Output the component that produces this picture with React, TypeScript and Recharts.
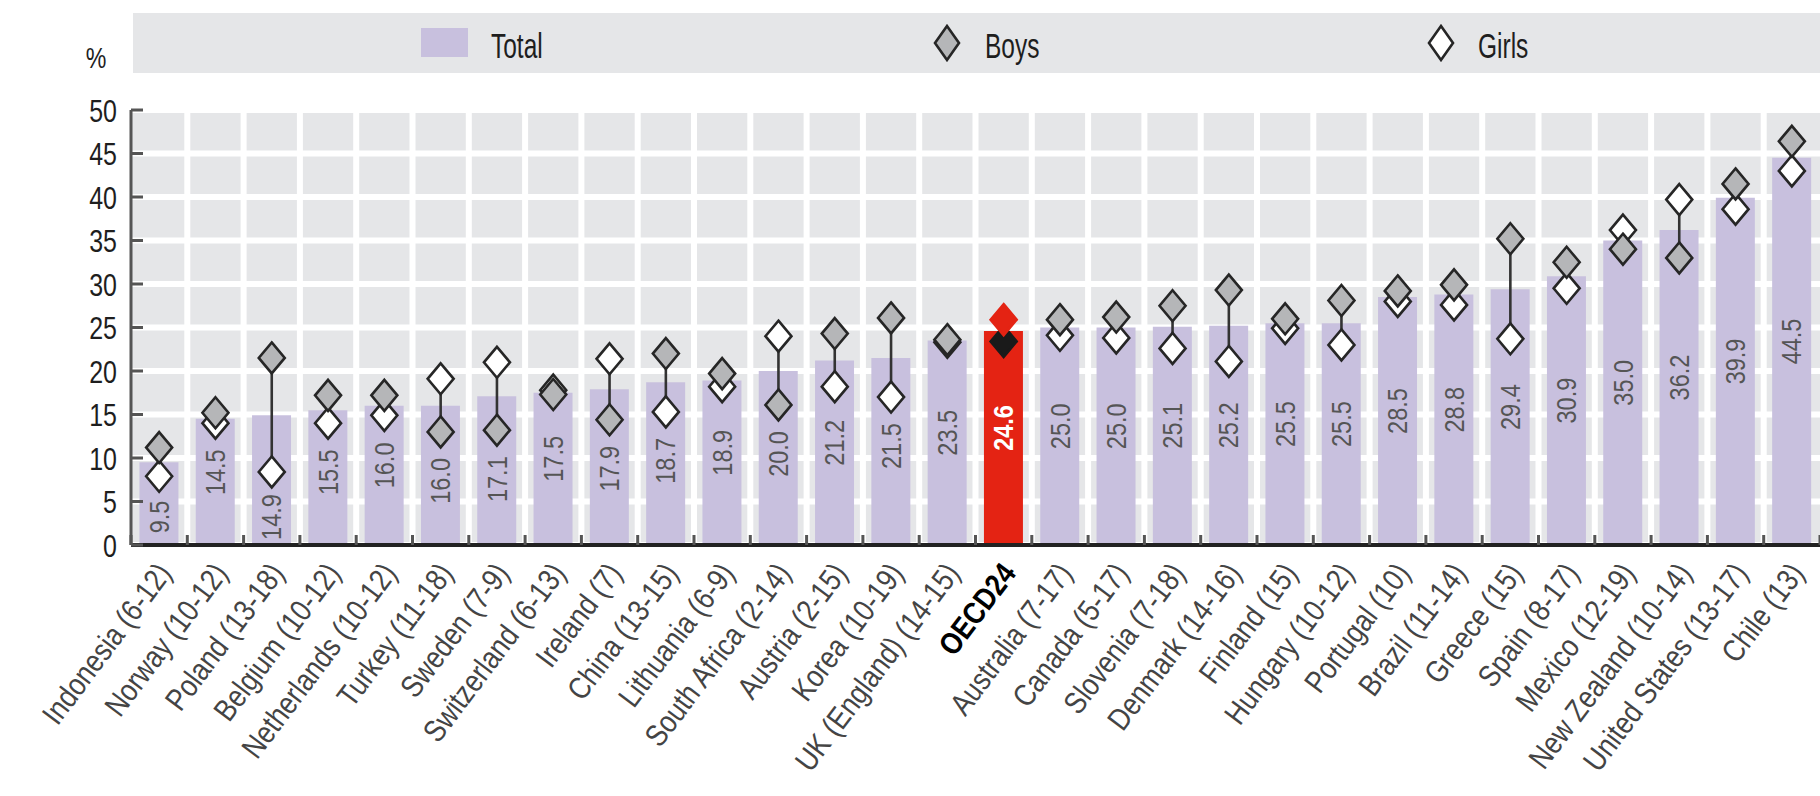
import { ComposedChart, Bar, Cell, Line, ErrorBar, XAxis, YAxis, CartesianGrid, LabelList } from "recharts";

const categories = [
  "Indonesia (6-12)", "Norway (10-12)", "Poland (13-18)", "Belgium (10-12)", "Netherlands (10-12)",
  "Turkey (11-18)", "Sweden (7-9)", "Switzerland (6-13)", "Ireland (7)", "China (13-15)",
  "Lithuania (6-9)", "South Africa (2-14)", "Austria (2-15)", "Korea (10-19)", "UK (England) (14-15)",
  "OECD24", "Australia (7-17)", "Canada (5-17)", "Slovenia (7-18)", "Denmark (14-16)",
  "Finland (15)", "Hungary (10-12)", "Portugal (10)", "Brazil (11-14)", "Greece (15)",
  "Spain (8-17)", "Mexico (12-19)", "New Zealand (10-14)", "United States (13-17)", "Chile (13)",
];

const total = [
  9.5, 14.5, 14.9, 15.5, 16.0, 16.0, 17.1, 17.5, 17.9, 18.7,
  18.9, 20.0, 21.2, 21.5, 23.5, 24.6, 25.0, 25.0, 25.1, 25.2,
  25.5, 25.5, 28.5, 28.8, 29.4, 30.9, 35.0, 36.2, 39.9, 44.5,
];

const boys = [
  11.2, 15.2, 21.5, 17.2, 17.2, 13.0, 13.2, 17.3, 14.4, 22.0,
  19.7, 16.1, 24.3, 26.1, 23.6, 25.9, 25.9, 26.2, 27.5, 29.3,
  26.0, 28.1, 29.2, 29.9, 35.2, 32.5, 34.0, 33.0, 41.5, 46.4,
];

const girls = [
  7.9, 14.0, 8.4, 14.0, 14.9, 19.1, 21.0, 17.8, 21.4, 15.3,
  18.2, 24.0, 18.2, 17.0, 23.3, 23.4, 24.1, 23.8, 22.6, 21.1,
  24.9, 23.0, 28.0, 27.6, 23.7, 29.5, 36.2, 39.7, 38.6, 43.0,
];

const yTicks = [0, 5, 10, 15, 20, 25, 30, 35, 40, 45, 50];
const highlight = "OECD24";

const data = categories.map((name, i) => ({ name, total: total[i], boys: boys[i], girls: girls[i] }));

const W = 1820;
const H = 796;
const PLOT_LEFT = 131;
const PLOT_W = W - PLOT_LEFT;
const STEP = PLOT_W / categories.length;
// no condensed face installed, so text is squeezed horizontally
const FONT = "'Liberation Sans', Arial, sans-serif";

const LAVENDER = "#c8c0de";
const RED = "#e42313";
const GREY_FILL = "#b5b6b8";
const DARK = "#262626";

const diamondPath = (cx: number, cy: number, w: number, h: number) =>
  `M${cx},${cy - h} L${cx + w},${cy} L${cx},${cy + h} L${cx - w},${cy} Z`;

const Diamond = (props: any) => {
  const { cx, cy, payload, kind } = props;
  if (cx == null || cy == null) return null;
  const oecd = payload && payload.name === highlight;
  let fill = kind === "boys" ? GREY_FILL : "#ffffff";
  let stroke = DARK;
  if (oecd) {
    fill = kind === "boys" ? RED : "#1a1a1a";
    stroke = kind === "boys" ? RED : "#1a1a1a";
  }
  return <path d={diamondPath(cx, cy, 13, 15.5)} fill={fill} stroke={stroke} strokeWidth={2.6} />;
};

const ValueLabel = (props: any) => {
  const { x, y, width, height, value, index } = props;
  const cx = x + width / 2;
  const bottom = y + height;
  const ppu = height / value;
  const lowest = Math.min(boys[index], girls[index], value);
  const yLow = bottom - lowest * ppu;
  const half = 23;
  let c = y + height / 2 - 10;
  c = Math.max(c, yLow + 26 + half);
  c = Math.min(c, bottom - 5 - half);
  const oecd = categories[index] === highlight;
  return (
    <text
      x={0}
      y={0}
      transform={`translate(${cx}, ${c}) rotate(-90) scale(0.84, 1)`}
      textAnchor="middle"
      dy="0.35em"
      fontFamily={FONT}
      fontSize={28}
      fontWeight={oecd ? "bold" : "normal"}
      fill={oecd ? "#ffffff" : "#555555"}
    >
      {Number(value).toFixed(1)}
    </text>
  );
};

const XTick = (props: any) => {
  const { x, y, payload, index } = props;
  const oecd = payload.value === highlight;
  const ax = x + 5;
  const ay = y + 22;
  const left = x - STEP / 2;
  return (
    <g>
      <line x1={left} x2={left} y1={y - 10} y2={y} stroke="#555" strokeWidth={3} />
      {index === categories.length - 1 && (
        <line x1={x + STEP / 2} x2={x + STEP / 2} y1={y - 10} y2={y} stroke="#555" strokeWidth={3} />
      )}
      <text
        x={0}
        y={0}
        transform={`translate(${ax}, ${ay}) rotate(-53) scale(0.85, 1)`}
        textAnchor="end"
        dy="0.35em"
        fontFamily={FONT}
        fontSize={31}
        fontWeight={oecd ? "bold" : "normal"}
        fill={oecd ? "#000" : "#444"}
      >
        {payload.value}
      </text>
    </g>
  );
};

const YTick = (props: any) => {
  const { x, y, payload } = props;
  return (
    <g>
      <line x1={x} x2={x + 12} y1={y} y2={y} stroke="#555" strokeWidth={3} />
      <text
        x={0}
        y={0}
        transform={`translate(${x - 14}, ${y}) scale(0.78, 1)`}
        textAnchor="end"
        dy="0.36em"
        fontFamily={FONT}
        fontSize={32}
        fill="#1e1e1e"
      >
        {payload.value}
      </text>
    </g>
  );
};

const connector = (d: any) => (d.boys > d.girls ? [0, d.boys - d.girls] : [d.girls - d.boys, 0]);

const LegendText = ({ x, label }: { x: number; label: string }) => (
  <text x={0} y={0} transform={`translate(${x}, 58) scale(0.7, 1)`} fontFamily={FONT} fontSize={35} fill="#1e1e1e">
    {label}
  </text>
);

const LegendBar = () => (
  <svg width={W} height={100} style={{ position: "absolute", top: 0, left: 0 }}>
    <rect x={133} y={13} width={W - 133} height={60} fill="#e5e6e8" />
    <rect x={421} y={28} width={47} height={29} fill={LAVENDER} />
    <LegendText x={491} label="Total" />
    <path d={diamondPath(947, 43, 12, 17)} fill={GREY_FILL} stroke={DARK} strokeWidth={2.6} />
    <LegendText x={985} label="Boys" />
    <path d={diamondPath(1441, 43, 12, 17)} fill="#ffffff" stroke={DARK} strokeWidth={2.6} />
    <LegendText x={1478} label="Girls" />
    <text x={0} y={0} transform="translate(96, 68) scale(0.8, 1)" textAnchor="middle" fontFamily={FONT} fontSize={29} fill="#1e1e1e">
      %
    </text>
  </svg>
);

export default function App() {
  return (
    <div style={{ position: "relative", width: W, height: H, background: "#fff" }}>
      <style>{`body{margin:0}`}</style>
      <LegendBar />
      <ComposedChart
        width={W}
        height={H}
        data={data}
        margin={{ top: 110, right: 0, bottom: 11, left: 0 }}
        barCategoryGap="15%"
      >
        <CartesianGrid
          fill="#e5e6e8"
          stroke="#ffffff"
          strokeWidth={6}
          verticalCoordinatesGenerator={({ offset }: any) =>
            categories.slice(1).map((_, i) => offset.left + ((i + 1) * offset.width) / categories.length)
          }
        />
        <XAxis
          dataKey="name"
          interval={0}
          height={240}
          tickSize={0}
          tickMargin={0}
          tick={<XTick />}
          axisLine={{ stroke: "#222", strokeWidth: 4 }}
          tickLine={false}
        />
        <YAxis
          width={PLOT_LEFT}
          domain={[0, 50]}
          ticks={yTicks}
          tickSize={0}
          tickMargin={0}
          tick={<YTick />}
          tickLine={false}
          axisLine={{ stroke: "#555", strokeWidth: 3 }}
          allowDataOverflow
        />
        <Bar dataKey="total" isAnimationActive={false}>
          {data.map((d, i) => (
            <Cell key={`c-${i}`} fill={d.name === highlight ? RED : LAVENDER} />
          ))}
          <LabelList dataKey="total" content={<ValueLabel />} />
        </Bar>
        <Line dataKey="girls" stroke="none" dot={false} activeDot={false} isAnimationActive={false}>
          <ErrorBar dataKey={connector} direction="y" width={0} stroke="#333" strokeWidth={2.6} />
        </Line>
        <Line
          dataKey="girls"
          stroke="none"
          activeDot={false}
          isAnimationActive={false}
          dot={(p: any) => <Diamond key={`g-${p.index}`} {...p} kind="girls" />}
        />
        <Line
          dataKey="boys"
          stroke="none"
          activeDot={false}
          isAnimationActive={false}
          dot={(p: any) => <Diamond key={`b-${p.index}`} {...p} kind="boys" />}
        />
      </ComposedChart>
    </div>
  );
}
